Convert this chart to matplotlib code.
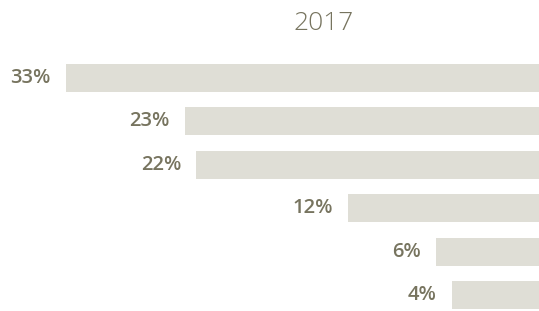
import matplotlib
import matplotlib.pyplot as plt

matplotlib.rc('font', family=['Open Sans', 'DejaVu Sans'])

title = "2017"
labels = ["33%", "23%", "22%", "12%", "6%", "4%"]
# bar lengths as drawn in the picture (the bars are not strictly proportional to labels)
bar_len = [33.0, 24.7, 23.9, 13.3, 7.2, 6.1]

bar_color = "#dfded6"
text_color = "#77745f"

fig = plt.figure(figsize=(5.39, 3.11), dpi=100)
ax = fig.add_axes([0, 0, 1, 1])

ypos = list(range(len(labels)))
ax.barh(ypos, bar_len, height=0.645, color=bar_color)

for y, v, lab in zip(ypos, bar_len, labels):
    ax.annotate(lab, (v, y), xytext=(-10.8, 0), textcoords="offset points",
                ha="right", va="center", fontsize=14.5, fontweight="semibold",
                color=text_color)

ax.set_xlim(37.6, 0)
ax.set_ylim(5.37, -1.80)
ax.axis("off")

fig.text(324 / 539, 1 - 24 / 311, title, ha="center", va="center",
         fontsize=19, fontweight="light", color=text_color)

fig.savefig("out.png", dpi=100)
